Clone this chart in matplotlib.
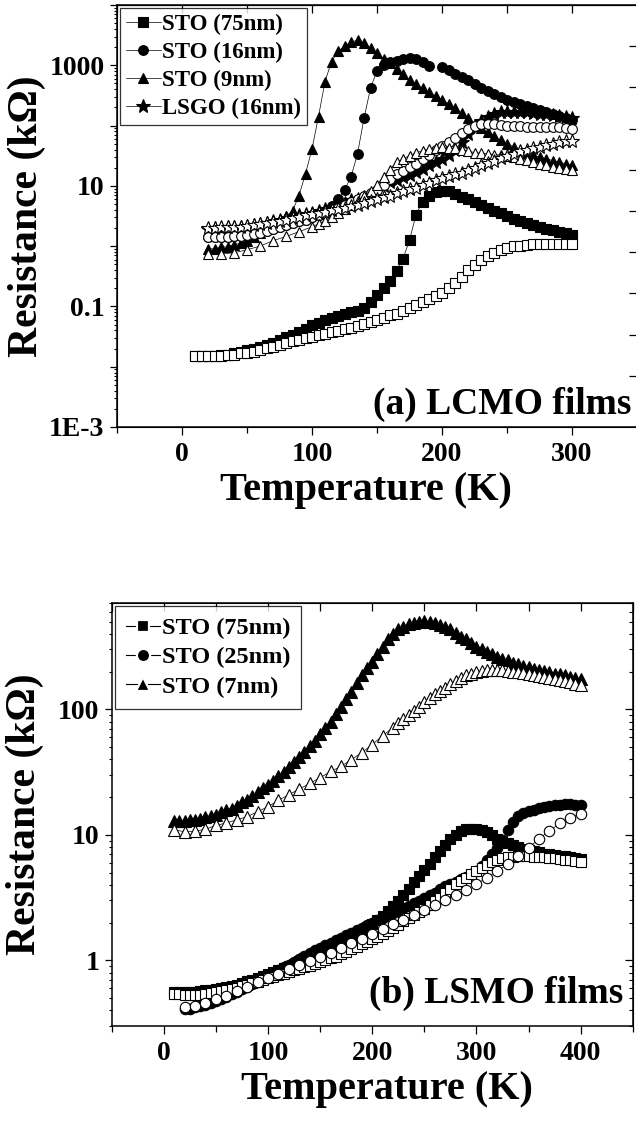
import matplotlib
matplotlib.use('Agg')
import matplotlib.pyplot as plt
import numpy as np
from matplotlib.lines import Line2D
from matplotlib.ticker import FixedLocator, FuncFormatter, MultipleLocator, NullFormatter, LogLocator

plt.rcParams['font.family'] = ['Liberation Serif', 'DejaVu Serif']
plt.rcParams['font.weight'] = 'bold'
plt.rcParams['axes.labelweight'] = 'bold'

# ---- (a) LCMO films : temperatures (K) ----
T_A10 = [10, 15, 20, 25, 30, 35, 40, 45, 50, 55, 60, 65, 70, 75, 80, 85, 90, 95, 100,
         105, 110, 115, 120, 125, 130, 135, 140, 145, 150, 155, 160, 165, 170, 175, 180,
         185, 190, 195, 200, 205, 210, 215, 220, 225, 230, 235, 240, 245, 250, 255, 260,
         265, 270, 275, 280, 285, 290, 295, 300]
T_A20 = T_A10[2:]
T_A_OT = [20, 30, 40, 50, 60, 70, 80, 90, 100] + T_A10[19:]

# log10 of resistance (kOhm)
lcmo_sto75 = [-1.83, -1.83, -1.82, -1.82, -1.81, -1.80, -1.78, -1.76, -1.73, -1.71,
              -1.68, -1.64, -1.60, -1.55, -1.51, -1.47, -1.43, -1.37, -1.31, -1.27,
              -1.22, -1.19, -1.16, -1.13, -1.10, -1.07, -1.02, -0.93, -0.81, -0.69,
              -0.57, -0.42, -0.21, 0.10, 0.52, 0.74, 0.84, 0.89, 0.92, 0.91,
              0.86, 0.82, 0.78, 0.73, 0.68, 0.64, 0.59, 0.55, 0.50, 0.45,
              0.41, 0.38, 0.35, 0.32, 0.29, 0.26, 0.23, 0.21, 0.19]
lcmo_sto75_open = [-1.83, -1.83, -1.83, -1.83, -1.82, -1.81, -1.80, -1.78, -1.77, -1.75,
                   -1.73, -1.69, -1.67, -1.64, -1.61, -1.58, -1.56, -1.53, -1.50, -1.48,
                   -1.45, -1.43, -1.40, -1.37, -1.35, -1.32, -1.29, -1.26, -1.23, -1.20,
                   -1.15, -1.12, -1.08, -1.03, -0.98, -0.93, -0.88, -0.83, -0.77, -0.70,
                   -0.61, -0.51, -0.40, -0.31, -0.23, -0.17, -0.11, -0.06, -0.03, 0.0,
                   0.01, 0.02, 0.03, 0.03, 0.03, 0.03, 0.03, 0.03, 0.03]
lcmo_sto16 = [0.15, 0.15, 0.15, 0.15, 0.16, 0.17, 0.18, 0.20, 0.22, 0.25,
              0.28, 0.31, 0.35, 0.38, 0.41, 0.44, 0.48, 0.52, 0.57, 0.66,
              0.78, 0.93, 1.15, 1.53, 2.12, 2.62, 2.91, 3.00, 3.05, 3.07,
              3.10, 3.12, 3.11, 3.06, 2.99, np.nan, 2.97, 2.92, 2.86, 2.80,
              2.75, 2.69, 2.62, 2.57, 2.52, 2.47, 2.43, 2.39, 2.35, 2.32,
              2.29, 2.26, 2.22, 2.19, 2.16, 2.13, 2.10]
lcmo_sto16_open = [0.15, 0.15, 0.15, 0.15, 0.16, 0.17, 0.18, 0.20, 0.22, 0.25,
                   0.28, 0.31, 0.35, 0.38, 0.41, 0.44, 0.48, 0.52, 0.55, 0.59,
                   0.64, 0.69, 0.74, 0.79, 0.83, 0.88, 0.93, 1.01, 1.12, 1.19,
                   1.25, 1.31, 1.36, 1.44, 1.52, 1.60, 1.66, 1.72, 1.79, 1.87,
                   1.95, 2.00, 2.03, 2.03, 2.02, 2.01, 2.00, 1.99, 1.99, 1.98,
                   1.98, 1.98, 1.98, 1.97, 1.97, 1.96, 1.95]
lcmo_sto9 = [-0.05, -0.04, -0.02, -0.01, 0.02, 0.05, 0.09, 0.15, 0.21, 0.28,
             0.35, 0.42, 0.50, 0.58, 0.84, 1.20, 1.61, 2.15, 2.73, 3.06,
             3.23, 3.32, 3.38, 3.42, 3.37, 3.29, 3.20, 3.11, 3.04, 2.94,
             2.85, 2.76, 2.69, 2.62, 2.56, 2.49, 2.43, 2.36, 2.29, 2.21,
             2.12, 2.03, 1.96, 1.89, 1.82, 1.76, 1.70, 1.65, 1.60, 1.55,
             1.51, 1.48, 1.45, 1.42, 1.39, 1.37, 1.34]
lcmo_sto9_open = [-0.13, -0.13, -0.11, -0.06, 0.0, 0.09, 0.16, 0.24, 0.32,
                  0.37, 0.42, 0.49, 0.55, 0.61, 0.68, 0.75, 0.83, 0.92, 1.02,
                  1.15, 1.27, 1.39, 1.45, 1.50, 1.55, 1.58, 1.61, 1.63, 1.64,
                  1.63, 1.62, 1.60, 1.58, 1.55, 1.54, 1.53, 1.52, 1.51, 1.49,
                  1.48, 1.45, 1.43, 1.40, 1.37, 1.35, 1.32, 1.30, 1.28, 1.26]
lcmo_lsgo16 = [0.29, 0.30, 0.30, 0.31, 0.31, 0.32, 0.33, 0.35, 0.37, 0.39,
               0.41, 0.43, 0.47, 0.49, 0.51, 0.53, 0.55, 0.58, 0.61, 0.64,
               0.68, 0.72, 0.76, 0.79, 0.82, 0.86, 0.91, 1.00, 1.06, 1.09,
               1.14, 1.18, 1.23, 1.28, 1.34, 1.39, 1.45, 1.52, 1.60, 1.72,
               1.86, 1.98, 2.08, 2.15, 2.20, 2.22, 2.23, 2.23, 2.23, 2.22,
               2.21, 2.20, 2.19, 2.17, 2.16, 2.14, 2.13]
lcmo_lsgo16_open = [0.30, 0.30, 0.31, 0.31, 0.32, 0.32, 0.33, 0.35, 0.37, 0.38,
                    0.40, 0.42, 0.44, 0.47, 0.49, 0.51, 0.53, 0.55, 0.57, 0.60,
                    0.62, 0.64, 0.67, 0.69, 0.72, 0.75, 0.78, 0.81, 0.84, 0.88,
                    0.91, 0.94, 0.97, 1.01, 1.05, 1.09, 1.13, 1.16, 1.19, 1.22,
                    1.26, 1.30, 1.34, 1.38, 1.42, 1.46, 1.50, 1.53, 1.57, 1.60,
                    1.62, 1.65, 1.67, 1.70, 1.72, 1.74, 1.75]

# ---- (b) LSMO films ----
T_B10 = [10, 15, 20, 25, 30, 35, 40, 45, 50, 55, 60, 65, 70, 75, 80, 85, 90, 95, 100,
         105, 110, 115, 120, 125, 130, 135, 140, 145, 150, 155, 160, 165, 170, 175, 180,
         185, 190, 195, 200, 205, 210, 215, 220, 225, 230, 235, 240, 245, 250, 255, 260,
         265, 270, 275, 280, 285, 290, 295, 300, 305, 310, 315, 320, 325, 330, 335, 340,
         345, 350, 355, 360, 365, 370, 375, 380, 385, 390, 395, 400]
T_B20 = T_B10[2:]
T_B_OC = T_B10[2::2]
T_B_OT = T_B10[0:43:2] + T_B10[43:]

lsmo_sto75 = [-0.255, -0.255, -0.255, -0.253, -0.25, -0.245, -0.24, -0.235, -0.228, -0.22,
              -0.212, -0.203, -0.193, -0.181, -0.168, -0.155, -0.141, -0.127, -0.112, -0.096,
              -0.08, -0.062, -0.044, -0.025, -0.005, 0.015, 0.035, 0.055, 0.076, 0.097,
              0.118, 0.14, 0.16, 0.18, 0.20, 0.222, 0.245, 0.268, 0.29, 0.32,
              0.355, 0.39, 0.43, 0.475, 0.52, 0.57, 0.625, 0.675, 0.72, 0.77,
              0.82, 0.87, 0.92, 0.965, 1.00, 1.03, 1.045, 1.05, 1.045, 1.035,
              1.02, 0.995, 0.97, 0.95, 0.935, 0.92, 0.905, 0.89, 0.88, 0.87,
              0.86, 0.85, 0.845, 0.84, 0.835, 0.83, 0.825, 0.815, 0.81]
lsmo_sto75_open = [-0.265, -0.27, -0.275, -0.275, -0.275, -0.272, -0.268, -0.262, -0.255, -0.247,
                   -0.238, -0.228, -0.218, -0.207, -0.195, -0.183, -0.17, -0.157, -0.144, -0.131,
                   -0.118, -0.105, -0.092, -0.08, -0.068, -0.055, -0.042, -0.028, -0.014, 0.0,
                   0.015, 0.03, 0.05, 0.07, 0.09, 0.11, 0.13, 0.15, 0.17, 0.19,
                   0.21, 0.235, 0.26, 0.285, 0.31, 0.335, 0.36, 0.385, 0.41, 0.44,
                   0.47, 0.50, 0.535, 0.57, 0.605, 0.635, 0.66, 0.685, 0.71, 0.735,
                   0.76, 0.785, 0.80, 0.812, 0.82, 0.826, 0.83, 0.83, 0.828, 0.826,
                   0.823, 0.82, 0.817, 0.813, 0.808, 0.803, 0.798, 0.792, 0.786]
lsmo_sto25 = [-0.39, -0.385, -0.375, -0.365, -0.355, -0.34, -0.325, -0.31, -0.29, -0.27,
              -0.25, -0.23, -0.21, -0.19, -0.165, -0.145, -0.12, -0.10, -0.08, -0.055,
              -0.035, -0.01, 0.01, 0.035, 0.055, 0.08, 0.10, 0.12, 0.14, 0.16,
              0.18, 0.20, 0.22, 0.24, 0.26, 0.28, 0.30, 0.32, 0.34, 0.355,
              0.375, 0.395, 0.415, 0.435, 0.455, 0.475, 0.495, 0.52, 0.54, 0.565,
              0.59, 0.605, 0.625, 0.645, 0.665, 0.69, 0.715, 0.75, 0.80, 0.85,
              0.895, 0.96, 1.04, 1.10, 1.15, 1.175, 1.19, 1.20, 1.215, 1.225,
              1.23, 1.235, 1.24, 1.245, 1.245, 1.24, 1.235]
lsmo_sto25_open = [-0.37, -0.36, -0.34, -0.31, -0.28, -0.245, -0.21, -0.175, -0.14, -0.105,
                   -0.07, -0.035, -0.005, 0.024, 0.061, 0.10, 0.135, 0.172, 0.21, 0.247,
                   0.287, 0.321, 0.361, 0.40, 0.438, 0.48, 0.52, 0.56, 0.608, 0.658,
                   0.712, 0.767, 0.831, 0.898, 0.967, 1.033, 1.091, 1.137, 1.166]
lsmo_sto7 = [1.11, 1.11, 1.11, 1.115, 1.12, 1.13, 1.14, 1.15, 1.16, 1.18,
             1.20, 1.21, 1.23, 1.26, 1.28, 1.31, 1.34, 1.37, 1.40, 1.43,
             1.47, 1.50, 1.54, 1.58, 1.62, 1.66, 1.71, 1.75, 1.80, 1.85,
             1.90, 1.96, 2.02, 2.08, 2.14, 2.21, 2.27, 2.33, 2.38, 2.44,
             2.50, 2.56, 2.60, 2.64, 2.66, 2.68, 2.69, 2.70, 2.705, 2.70,
             2.69, 2.67, 2.66, 2.64, 2.61, 2.58, 2.56, 2.53, 2.50, 2.48,
             2.46, 2.44, 2.42, 2.40, 2.39, 2.37, 2.36, 2.345, 2.335, 2.325,
             2.315, 2.305, 2.295, 2.285, 2.28, 2.27, 2.26, 2.25, 2.24]
lsmo_sto7_open = [1.04, 1.025, 1.03, 1.045, 1.075, 1.095, 1.12, 1.145, 1.185, 1.225,
                  1.275, 1.32, 1.365, 1.41, 1.455, 1.505, 1.545, 1.60, 1.655, 1.72,
                  1.79, 1.855,
                  1.89, 1.92, 1.955, 1.99, 2.02, 2.06, 2.09, 2.12, 2.145, 2.17,
                  2.20, 2.225, 2.25, 2.27, 2.285, 2.30, 2.305, 2.31, 2.315, 2.315,
                  2.31, 2.305, 2.30, 2.295, 2.29, 2.285, 2.275, 2.265, 2.26, 2.25,
                  2.245, 2.235, 2.225, 2.215, 2.205, 2.195]

TICK_FS = 20
XLABEL_FS = 29
YLABEL_FS = 30


def kohm(logr):
    return 10 ** np.asarray(logr, dtype=float)


def draw(ax, t, logr, marker, filled, ms, label=None):
    ax.plot(t, kohm(logr), color='black', lw=0.5, marker=marker, ms=ms,
            mfc='black' if filled else 'white', mec='black', mew=0.8,
            label=label)


def base_ticks(ax):
    ax.set_yscale('log')
    ax.xaxis.set_major_locator(MultipleLocator(100))
    ax.xaxis.set_minor_locator(MultipleLocator(50))
    ax.tick_params(axis='x', which='major', direction='out', length=6, width=0.9,
                   labelsize=TICK_FS, pad=5, top=False)
    ax.tick_params(axis='x', which='minor', direction='out', length=4.5, width=0.9, top=False)
    ax.tick_params(axis='y', which='major', direction='out', length=5, width=0.9,
                   labelsize=TICK_FS, pad=4, right=False)
    ax.tick_params(axis='y', which='minor', direction='out', length=2.5, width=0.8, right=False)
    for s in ax.spines.values():
        s.set_linewidth(1.1)
    # inward ticks along the top edge
    top = ax.secondary_xaxis('top')
    top.xaxis.set_major_locator(MultipleLocator(50))
    top.xaxis.set_major_formatter(NullFormatter())
    top.tick_params(direction='in', length=6, width=0.9)


fig = plt.figure(figsize=(6.36, 11.22), dpi=100)

# ---------------- panel (a) ----------------
ax = fig.add_axes([117 / 636, 1 - 427 / 1122, 520 / 636, 422 / 1122])
base_ticks(ax)
draw(ax, T_A10, lcmo_sto75, 's', True, 6.5, 'STO (75nm)')
draw(ax, T_A20, lcmo_sto16, 'o', True, 7, 'STO (16nm)')
draw(ax, T_A20, lcmo_sto9, '^', True, 7.5, 'STO (9nm)')
draw(ax, T_A20, lcmo_lsgo16, '*', True, 10, 'LSGO (16nm)')
draw(ax, T_A10, lcmo_sto75_open, 's', False, 6.5)
draw(ax, T_A20, lcmo_sto16_open, 'o', False, 7)
draw(ax, T_A_OT, lcmo_sto9_open, '^', False, 7.5)
draw(ax, T_A20, lcmo_lsgo16_open, '*', False, 10)
ax.set_xlim(-50, 350)
ax.set_ylim(1e-3, 1e4)
ax.yaxis.set_major_locator(FixedLocator([1e-3, 1e-2, 1e-1, 1, 10, 100, 1000, 1e4]))
ax.yaxis.set_minor_locator(LogLocator(base=10, subs=np.arange(2, 10), numticks=20))
a_labels = {1e-3: '1E-3', 1e-1: '0.1', 10: '10', 1000: '1000'}
ax.yaxis.set_major_formatter(FuncFormatter(
    lambda v, p: next((s for k, s in a_labels.items() if abs(v - k) < k * 1e-6), '')))
ax.yaxis.set_minor_formatter(NullFormatter())
ax.set_xlabel('Temperature (K)', fontsize=XLABEL_FS)
ax.xaxis.set_label_coords(0.479, -0.107)
ax.set_ylabel('Resistance (k\u03a9)', fontsize=YLABEL_FS)
ax.yaxis.set_label_coords(-0.1365, 0.5)
ax.text(0.99, 0.012, '(a) LCMO films', transform=ax.transAxes, ha='right', va='bottom',
        fontsize=27)
leg = ax.legend(loc='upper left', fontsize=16.5, frameon=True, fancybox=False,
                edgecolor='black', borderaxespad=0.15, borderpad=0.25, labelspacing=0.3,
                handlelength=1.5, handletextpad=0.08)
leg.get_frame().set_linewidth(0.9)

# odd inward ticks on the cropped right edge
rt = ax.twinx()
rt.set_ylim(-1.24, 9.0)
rt.set_yticks(range(9))
rt.tick_params(direction='in', length=6, width=0.9, labelright=False)
rt.spines['right'].set_visible(False)

# ---------------- panel (b) ----------------
bx = fig.add_axes([111.7 / 636, 1 - 1026 / 1122, 521 / 636, 422.7 / 1122])
base_ticks(bx)
draw(bx, T_B10, lsmo_sto75, 's', True, 7.5)
draw(bx, T_B20, lsmo_sto25, 'o', True, 7.5)
draw(bx, T_B10, lsmo_sto7, '^', True, 8)
draw(bx, T_B10, lsmo_sto75_open, 's', False, 7.5)
draw(bx, T_B_OC, lsmo_sto25_open, 'o', False, 7.5)
draw(bx, T_B_OT, lsmo_sto7_open, '^', False, 8)
bx.set_xlim(-50, 450)
bx.set_ylim(0.3, 700)
bx.yaxis.set_major_locator(FixedLocator([1, 10, 100]))
bx.yaxis.set_minor_locator(LogLocator(base=10, subs=np.arange(2, 10), numticks=20))
bx.yaxis.set_major_formatter(FuncFormatter(lambda v, p: '%d' % round(v)))
bx.yaxis.set_minor_formatter(NullFormatter())
bx.set_xlabel('Temperature (K)', fontsize=XLABEL_FS)
bx.xaxis.set_label_coords(0.528, -0.107)
bx.set_ylabel('Resistance (k\u03a9)', fontsize=YLABEL_FS)
bx.yaxis.set_label_coords(-0.130, 0.5)
bx.text(0.982, 0.036, '(b) LSMO films', transform=bx.transAxes, ha='right', va='bottom',
        fontsize=27)

# legend keys drawn as "-■-": the white marker rim cuts the line next to the symbol
b_keys = [Line2D([], [], color='black', lw=0.8, marker=m, ms=ms, mfc='black',
                 mec='white', mew=1.6) for m, ms in (('s', 9), ('o', 9.5), ('^', 10))]
leg = bx.legend(b_keys, ['STO (75nm)', 'STO (25nm)', 'STO (7nm)'], loc='upper left',
                fontsize=17.5, frameon=True, fancybox=False, edgecolor='black',
                borderaxespad=0.12, borderpad=0.45, labelspacing=0.3,
                handlelength=1.4, handletextpad=0.1)
leg.get_frame().set_linewidth(0.9)

# inward ticks on the right edge of panel (b)
rb = bx.secondary_yaxis('right')
rb.yaxis.set_major_locator(FixedLocator([1, 10, 100]))
rb.yaxis.set_minor_locator(LogLocator(base=10, subs=np.arange(2, 10), numticks=20))
rb.yaxis.set_major_formatter(NullFormatter())
rb.yaxis.set_minor_formatter(NullFormatter())
rb.tick_params(which='major', direction='in', length=6, width=0.9)
rb.tick_params(which='minor', direction='in', length=3, width=0.8)

fig.savefig('out.png', dpi=100)
plt.close(fig)
